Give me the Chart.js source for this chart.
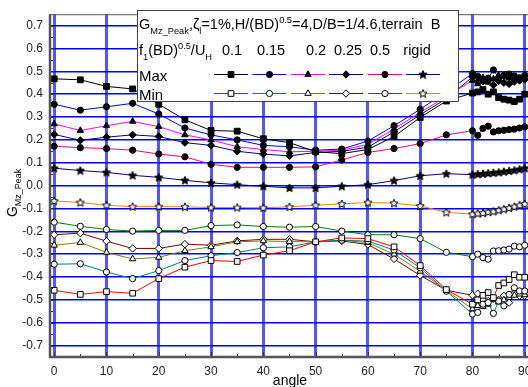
<!DOCTYPE html>
<html>
<head>
<meta charset="utf-8">
<script src="https://cdn.jsdelivr.net/npm/chart.js@4.4.0/dist/chart.umd.min.js"></script>
<style>
  html, body { margin: 0; padding: 0; background: #fff; overflow: hidden; }
  #wrap { width: 540px; height: 387px; }
</style>
</head>
<body>
<div id="wrap"><canvas id="chart" width="540" height="387"></canvas></div>
<script>
// angles: every 5 deg up to 75, then every degree 80..90
const angles = [0, 5, 10, 15, 20, 25, 30, 35, 40, 45, 50, 55, 60, 65, 70, 75,
                80, 81, 82, 83, 84, 85, 86, 87, 88, 89, 90];

const maxF01   = [0.467, 0.463, 0.434, 0.423, 0.356, 0.288, 0.241, 0.238, 0.205, 0.188, 0.148, 0.140, 0.158, 0.215, 0.298, 0.370,
                  0.405, 0.410, 0.420, 0.400, 0.410, 0.385, 0.378, 0.374, 0.368, 0.378, 0.400];
const maxF015  = [0.356, 0.330, 0.345, 0.360, 0.313, 0.252, 0.222, 0.200, 0.176, 0.170, 0.155, 0.160, 0.195, 0.262, 0.334, 0.410,
                  0.490, 0.478, 0.462, 0.470, 0.506, 0.472, 0.482, 0.488, 0.480, 0.472, 0.482];
const maxF02   = [0.270, 0.241, 0.262, 0.281, 0.258, 0.222, 0.200, 0.170, 0.158, 0.148, 0.150, 0.155, 0.180, 0.248, 0.320, 0.390,
                  0.460, 0.445, 0.472, 0.452, 0.466, 0.482, 0.476, 0.470, 0.462, 0.468, 0.472];
const maxF025  = [0.224, 0.198, 0.212, 0.222, 0.215, 0.188, 0.176, 0.150, 0.138, 0.130, 0.145, 0.150, 0.168, 0.235, 0.310, 0.380,
                  0.475, 0.452, 0.456, 0.460, 0.440, 0.458, 0.450, 0.445, 0.455, 0.460, 0.465];
const maxF05   = [0.172, 0.166, 0.162, 0.155, 0.138, 0.126, 0.093, 0.080, 0.080, 0.080, 0.082, 0.112, 0.145, 0.162, 0.184, 0.222,
                  0.240, 0.220, 0.250, 0.260, 0.235, 0.240, 0.242, 0.245, 0.247, 0.252, 0.257];
const maxRigid = [0.076, 0.066, 0.058, 0.045, 0.036, 0.023, 0.012, 0.004, -0.003, -0.010, -0.010, -0.003, 0.004, 0.022, 0.043, 0.052,
                  0.048, 0.050, 0.052, 0.054, 0.056, 0.058, 0.061, 0.064, 0.067, 0.071, 0.076];

const minF01   = [-0.458, -0.476, -0.464, -0.471, -0.407, -0.357, -0.328, -0.332, -0.304, -0.285, -0.246, -0.229, -0.232, -0.268, -0.350, -0.455,
                  -0.519, -0.500, -0.480, -0.468, -0.490, -0.437, -0.426, -0.411, -0.390, -0.401, -0.401];
const minF015  = [-0.344, -0.342, -0.378, -0.407, -0.372, -0.328, -0.307, -0.293, -0.272, -0.268, -0.246, -0.239, -0.243, -0.282, -0.360, -0.462,
                  -0.562, -0.555, -0.519, -0.512, -0.559, -0.505, -0.526, -0.476, -0.447, -0.461, -0.461];
const minF02   = [-0.261, -0.249, -0.292, -0.321, -0.314, -0.285, -0.268, -0.246, -0.242, -0.245, -0.246, -0.239, -0.250, -0.300, -0.375, -0.460,
                  -0.540, -0.526, -0.530, -0.520, -0.500, -0.510, -0.500, -0.490, -0.480, -0.475, -0.478];
const minF025  = [-0.215, -0.208, -0.243, -0.275, -0.275, -0.256, -0.261, -0.242, -0.235, -0.235, -0.246, -0.242, -0.258, -0.321, -0.393, -0.458,
                  -0.480, -0.473, -0.500, -0.505, -0.495, -0.500, -0.482, -0.512, -0.473, -0.482, -0.482];
const minF05   = [-0.160, -0.178, -0.192, -0.199, -0.196, -0.196, -0.175, -0.172, -0.179, -0.182, -0.179, -0.199, -0.215, -0.215, -0.232, -0.292,
                  -0.311, -0.300, -0.315, -0.322, -0.286, -0.285, -0.282, -0.278, -0.265, -0.268, -0.261];
const minRigid = [-0.067, -0.074, -0.086, -0.092, -0.092, -0.093, -0.096, -0.096, -0.097, -0.093, -0.086, -0.080, -0.074, -0.077, -0.089, -0.117,
                  -0.125, -0.122, -0.120, -0.116, -0.113, -0.108, -0.103, -0.098, -0.092, -0.086, -0.080];

const freqLabels = ['0.1', '0.15', '0.2', '0.25', '0.5', 'rigid'];
const xTicks = [0, 10, 20, 30, 40, 50, 60, 70, 80, 90];
const yTicks = [-0.7, -0.6, -0.5, -0.4, -0.3, -0.2, -0.1, 0.0, 0.1, 0.2, 0.3, 0.4, 0.5, 0.6, 0.7];

const FONT = '"Liberation Sans", Arial, sans-serif';

function starImg(fill) {
    const c = document.createElement('canvas');
    c.width = 10; c.height = 10;
    const g = c.getContext('2d');
    g.beginPath();
    for (let i = 0; i < 10; i++) {
        const r = i % 2 ? 1.9 : 4.3;
        const a = -Math.PI / 2 + i * Math.PI / 5;
        g.lineTo(5 + r * Math.cos(a), 5.3 + r * Math.sin(a));
    }
    g.closePath();
    g.fillStyle = fill;
    g.fill();
    g.strokeStyle = '#000';
    g.lineWidth = 1;
    g.stroke();
    return c;
}
const starFilled = starImg('#000');
const starOpen = starImg('#fff');

// style per series (max row then min row)
const maxSeries = [maxF01, maxF015, maxF02, maxF025, maxF05, maxRigid];
const minSeries = [minF01, minF015, minF02, minF025, minF05, minRigid];
const maxStyle = [
    { color: '#000000', marker: 'rect', r: 4.1 },
    { color: '#0000ff', marker: 'circle', r: 3.1 },
    { color: '#ff00ff', marker: 'triangle', r: 3.7 },
    { color: '#000080', marker: 'rectRot', r: 3.7 },
    { color: '#ff0080', marker: 'circle', r: 3.1 },
    { color: '#000080', marker: starFilled, r: 4 }
];
const minStyle = [
    { color: '#ff0000', marker: 'rect', r: 4 },
    { color: '#008080', marker: 'circle', r: 3.1 },
    { color: '#808000', marker: 'triangle', r: 3.7 },
    { color: '#800000', marker: 'rectRot', r: 3.7 },
    { color: '#008000', marker: 'circle', r: 3.1 },
    { color: '#ff8000', marker: starOpen, r: 4 }
];

function makeDataset(values, st, filled) {
    return {
        data: values.map((v, i) => ({ x: angles[i], y: v })),
        borderColor: st.color,
        borderWidth: 1,
        pointStyle: st.marker,
        pointRadius: st.r,
        pointBackgroundColor: filled ? '#000' : '#fff',
        pointBorderColor: '#000',
        pointBorderWidth: 1,
        tension: 0,
        fill: false
    };
}

const datasets = [];
maxSeries.forEach((s, i) => datasets.push(makeDataset(s, maxStyle[i], true)));
minSeries.forEach((s, i) => datasets.push(makeDataset(s, minStyle[i], false)));

function drawRich(ctx, parts, x, y, size) {
    parts.forEach(([t, k]) => {
        const fs = k ? size * 0.64 : size;
        ctx.font = fs + 'px ' + FONT;
        const dy = k === 'sub' ? size * 0.32 : k === 'sup' ? -size * 0.42 : 0;
        ctx.fillText(t, x, y + dy);
        x += ctx.measureText(t).width;
    });
    return x;
}

function richWidth(ctx, parts, size) {
    let w = 0;
    parts.forEach(([t, k]) => {
        ctx.font = (k ? size * 0.64 : size) + 'px ' + FONT;
        w += ctx.measureText(t).width;
    });
    return w;
}

const decor = {
    id: 'decor',
    afterDatasetsDraw(chart) {
        const ctx = chart.ctx;
        const a = chart.chartArea;
        const xs = chart.scales.x, ys = chart.scales.y;
        ctx.save();

        // inner minor/major ticks
        ctx.strokeStyle = '#333';
        ctx.lineWidth = 1;
        ctx.beginPath();
        for (let v = 0; v <= 90; v += 5) {
            const px = Math.round(xs.getPixelForValue(v)) + 0.5;
            ctx.moveTo(px, a.bottom);
            ctx.lineTo(px, a.bottom - (v % 10 ? 3 : 5));
        }
        for (let v = -0.7; v <= 0.71; v += 0.05) {
            const py = Math.round(ys.getPixelForValue(v)) + 0.5;
            const major = Math.abs(Math.round(v * 10) - v * 10) < 0.01;
            ctx.moveTo(a.left, py);
            ctx.lineTo(a.left + (major ? 5 : 3), py);
        }
        ctx.stroke();

        // frame
        ctx.strokeStyle = '#555';
        ctx.lineWidth = 1;
        ctx.beginPath();
        ctx.moveTo(a.left, a.top + 0.5);
        ctx.lineTo(a.right, a.top + 0.5);
        ctx.stroke();
        ctx.lineWidth = 2.5;
        ctx.beginPath();
        ctx.moveTo(a.left, a.top);
        ctx.lineTo(a.left, a.bottom);
        ctx.lineTo(a.right, a.bottom);
        ctx.stroke();

        // legend box
        const bx = 137, by = 10, bw = 321, bh = 91;
        ctx.fillStyle = '#fff';
        ctx.fillRect(bx, by, bw, bh);
        ctx.strokeStyle = '#444';
        ctx.lineWidth = 1;
        ctx.strokeRect(bx + 0.5, by + 0.5, bw, bh);

        ctx.fillStyle = '#000';
        ctx.textBaseline = 'alphabetic';
        ctx.textAlign = 'left';
        drawRich(ctx, [['G'], ['Mz_Peak', 'sub'], [',ζ'], ['l', 'sub'], ['=1%,H/(BD)'], ['0.5', 'sup'],
                       ['=4,D/B=1/4.6,terrain  B']], 139, 29, 14.5);
        drawRich(ctx, [['f'], ['1', 'sub'], ['(BD)'], ['0.5', 'sup'], ['/U'], ['H', 'sub']], 139, 55, 14.5);
        ctx.font = '14.5px ' + FONT;
        ctx.textAlign = 'center';
        const labelX = [232, 271, 316, 348, 380, 417];
        freqLabels.forEach((t, i) => ctx.fillText(t, labelX[i], 55));
        ctx.textAlign = 'left';
        ctx.font = '15px ' + FONT;
        ctx.fillText('Max', 139, 81);
        ctx.fillText('Min', 139, 100);

        const sampleX = [231, 269.5, 308, 346, 385, 423];
        const rows = [[maxStyle, 74, '#000'], [minStyle, 93, '#fff']];
        rows.forEach(([styles, yy, fillc]) => {
            styles.forEach((st, i) => {
                ctx.strokeStyle = st.color;
                ctx.lineWidth = 1;
                ctx.beginPath();
                ctx.moveTo(sampleX[i] - 17, yy + 0.5);
                ctx.lineTo(sampleX[i] + 17, yy + 0.5);
                ctx.stroke();
                ctx.fillStyle = fillc;
                ctx.strokeStyle = '#000';
                Chart.helpers.drawPoint(ctx, { pointStyle: st.marker, radius: st.r, rotation: 0, borderWidth: 1 },
                    sampleX[i], yy + 0.5);
            });
        });

        // axis titles
        ctx.fillStyle = '#000';
        const yt = [['G'], ['Mz_Peak', 'sub']];
        ctx.save();
        ctx.translate(17, 193);
        ctx.rotate(-Math.PI / 2);
        drawRich(ctx, yt, -richWidth(ctx, yt, 14) / 2, 0, 14);
        ctx.restore();
        ctx.font = '14px ' + FONT;
        ctx.textAlign = 'center';
        ctx.fillText('angle', 290, 385);

        ctx.restore();
    }
};

new Chart(document.getElementById('chart'), {
    type: 'line',
    data: { datasets: datasets },
    options: {
        responsive: false,
        animation: false,
        events: [],
        layout: { padding: { left: 0, right: 10, top: 7, bottom: 0 } },
        plugins: { legend: { display: false }, tooltip: { enabled: false } },
        scales: {
            x: {
                type: 'linear',
                min: -0.8,
                max: 91,
                afterFit: s => { s.height = 30; },
                afterBuildTicks: s => { s.ticks = xTicks.map(v => ({ value: v })); },
                grid: { color: 'rgba(20,20,255,0.72)', lineWidth: 3, drawTicks: false },
                border: { display: false },
                ticks: {
                    padding: 7,
                    color: '#222',
                    font: { size: 12, family: FONT },
                    maxRotation: 0,
                    callback: v => String(v)
                }
            },
            y: {
                type: 'linear',
                min: -0.75,
                max: 0.75,
                afterFit: s => { s.width = 50; },
                afterBuildTicks: s => { s.ticks = yTicks.map(v => ({ value: v })); },
                grid: { color: '#0000ff', lineWidth: 1.5, drawTicks: false },
                border: { display: false },
                ticks: {
                    padding: 7,
                    color: '#222',
                    font: { size: 12, family: FONT },
                    callback: v => v.toFixed(1)
                }
            }
        }
    },
    plugins: [decor]
});
</script>
</body>
</html>
